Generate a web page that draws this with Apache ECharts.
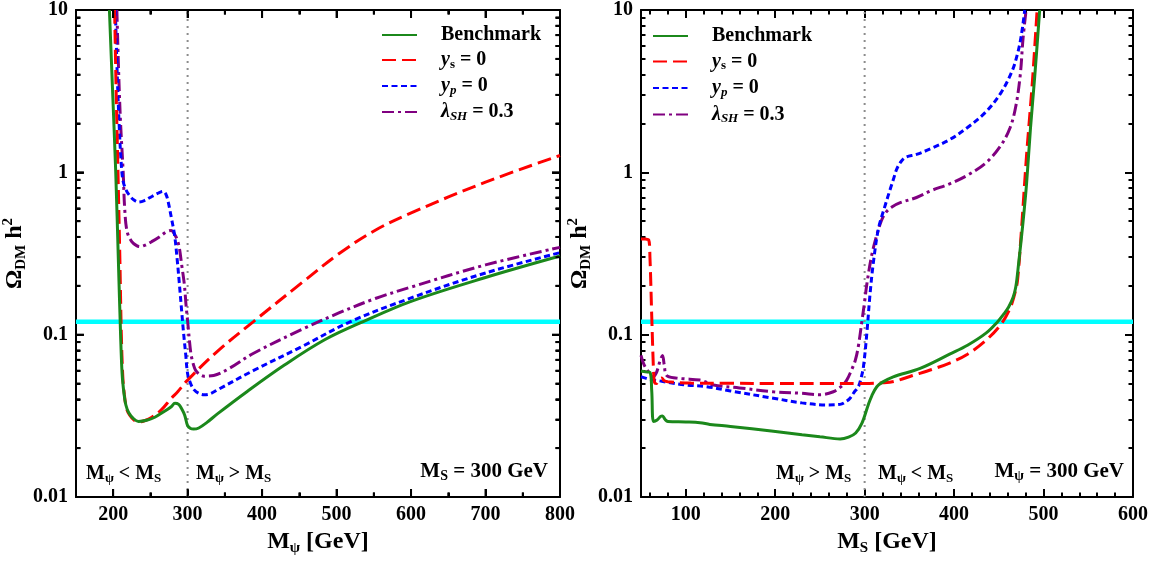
<!DOCTYPE html>
<html><head><meta charset="utf-8">
<script src="https://cdn.jsdelivr.net/npm/echarts@6/dist/echarts.min.js"></script>
<style>html,body{margin:0;padding:0;background:#fff}#c{width:1158px;height:561px}</style>
</head><body><div id="c"></div>
<script>
// ---------- data ----------
const seriesNames = ['Benchmark', 'ys', 'yp', 'lam'];
// Left panel: x = M_psi (GeV), M_S = 300 GeV
const benchL = [[195,10],[199,3.4],[203.5,1.0],[207,0.29],[210,0.1],[212,0.058],[214.5,0.0437],[217,0.037],[221,0.033],[227,0.0305],[234,0.0292],[245,0.0297],[256,0.031],[268,0.0335],[278,0.036],[283,0.0378],[288,0.0372],[292,0.035],[296,0.032],[300,0.0275],[304,0.0264],[308,0.0262],[315,0.0266],[326,0.0288],[340,0.0325],[380,0.0447],[430,0.065],[484,0.093],[535,0.12],[601,0.161],[700,0.225],[800,0.305]];
const ysL = [[202,10],[204,3.2],[206.5,1.0],[209,0.3],[211,0.1],[213,0.055],[215,0.043],[218,0.035],[222,0.032],[228,0.0298],[234,0.029],[242,0.0295],[252,0.031],[265,0.0345],[277,0.04],[287,0.0447],[300,0.0525],[340,0.079],[388,0.12],[454,0.21],[503,0.315],[552,0.44],[601,0.565],[700,0.87],[800,1.27]];
const ypL = [[203,10],[205.5,4],[208,2],[210.5,1.2],[213,0.9],[216.7,0.79],[222,0.72],[228,0.675],[234,0.656],[242,0.67],[252,0.71],[262,0.75],[267,0.762],[271,0.73],[274,0.656],[278,0.53],[282.5,0.41],[286,0.29],[289,0.204],[292,0.14],[294.7,0.101],[297.5,0.075],[300,0.0575],[304,0.05],[308.8,0.0457],[315,0.0435],[322,0.0427],[330,0.0432],[340,0.0457],[388,0.06],[454,0.0847],[518,0.12],[601,0.169],[700,0.24],[800,0.32]];
const lamL = [[205,10],[207.5,4],[210,2],[213.5,1.0],[215.5,0.6],[218.8,0.43],[225,0.374],[231,0.355],[236,0.349],[243,0.356],[251.7,0.374],[262,0.4],[271.5,0.43],[278,0.438],[282.5,0.415],[286,0.385],[289,0.34],[292,0.27],[295.6,0.204],[298,0.15],[300,0.1216],[304.4,0.0766],[308,0.065],[311,0.06],[316,0.057],[322,0.0555],[335,0.056],[356,0.062],[388,0.0766],[454,0.108],[503,0.136],[552,0.167],[601,0.197],[700,0.269],[800,0.345]];
// Right panel: x = M_S (GeV), M_psi = 300 GeV
const benchR = [[50,0.0597],[55,0.059],[60,0.0585],[62,0.045],[64,0.0292],[68,0.0298],[72,0.0314],[74,0.0316],[77,0.03],[80,0.0292],[100,0.029],[116,0.0287],[127,0.028],[150,0.0272],[198,0.0254],[230,0.0242],[250,0.0235],[272.6,0.0228],[282,0.0234],[290,0.0248],[297,0.0285],[304,0.0369],[308,0.042],[313.6,0.0478],[320,0.051],[332,0.055],[362,0.062],[395,0.0758],[415,0.086],[436,0.1025],[448,0.119],[456,0.135],[461,0.148],[466,0.17],[469,0.197],[472,0.27],[477,0.49],[481,0.85],[485.4,1.87],[490,3.8],[495.7,10]];
const ysR = [[50,0.389],[55,0.388],[58.5,0.385],[60,0.3],[62,0.13],[64,0.06],[65,0.051],[67,0.05],[70,0.0525],[73,0.054],[76,0.052],[80,0.0512],[106,0.0503],[150,0.0502],[200,0.05],[250,0.05],[300,0.05],[320,0.0505],[333,0.0515],[353.6,0.056],[375,0.061],[395,0.0669],[415,0.0758],[436,0.0927],[452.5,0.116],[462.7,0.146],[468,0.18],[471,0.218],[475,0.42],[481,1.27],[487.5,3.6],[492.8,10]];
const ypR = [[50,0.055],[55,0.054],[60,0.053],[63.8,0.0525],[70,0.052],[78.7,0.051],[100,0.049],[123.5,0.0478],[150,0.045],[198,0.0406],[230,0.038],[257.7,0.0369],[272.6,0.0372],[280,0.039],[283.7,0.0406],[288,0.044],[293,0.0478],[296,0.054],[298.6,0.063],[302.4,0.101],[306,0.177],[309.9,0.282],[315.5,0.451],[323,0.627],[329,0.8],[332,0.9],[336,1.05],[341,1.17],[346,1.24],[358,1.29],[374,1.4],[395,1.59],[415,1.89],[436,2.37],[452.5,3.1],[464.8,4.2],[471,5.4],[475,6.9],[479,10]];
const lamR = [[50,0.0745],[53,0.066],[57.5,0.06],[63,0.055],[67,0.058],[71,0.068],[74,0.0745],[76,0.065],[78.7,0.056],[90,0.054],[97.4,0.0535],[116,0.0525],[123,0.051],[131,0.0489],[160,0.047],[198,0.0445],[230,0.0435],[250,0.0427],[265,0.0445],[274,0.048],[280,0.0525],[285,0.06],[289.5,0.0693],[293,0.085],[297,0.1216],[300,0.16],[302.4,0.204],[308,0.31],[313.6,0.411],[318.5,0.5],[323,0.56],[330,0.61],[339.8,0.65],[358,0.7],[374,0.77],[395,0.85],[415,0.96],[436,1.15],[452.5,1.47],[462.7,1.89],[469,2.55],[474,4.0],[477,6.6],[480.5,10]];
// reference values
const omegaObs = 0.12;
const splitMass = 300;
// axes / ticks
const xRangeL = [150, 800];
const xRangeR = [50, 600];
const yRange = [0.01, 10];
const majorXL = [200,300,400,500,600,700,800];
const minorXL = [250,350,450,550,650,750];
const majorXR = [100,200,300,400,500,600];
const minorXR = [60,80,120,140,160,180,220,240,260,280,320,340,360,380,420,440,460,480,520,540,560,580];
const majorY = [0.01,0.1,1,10];
const minorY = [0.02,0.03,0.04,0.05,0.06,0.07,0.08,0.09,0.2,0.3,0.4,0.5,0.6,0.7,0.8,0.9,2,3,4,5,6,7,8,9];

// ---------- styling ----------
const FONT = "'Liberation Serif','Times New Roman',serif";
const TICK = '#000';
const COLORS = {Benchmark:'#1B881B', ys:'#FF0000', yp:'#0000FF', lam:'#800080'};
const DASH = {Benchmark:'solid', ys:[14,6], yp:[6,3.5], lam:[12,4,3,4]};
const dataL = {Benchmark:benchL, ys:ysL, yp:ypL, lam:lamL};
const dataR = {Benchmark:benchR, ys:ysR, yp:ypR, lam:lamR};

function tok(size, style, extra) {
  return Object.assign({fontFamily:FONT, fontWeight:'bold', fontSize:size, fontStyle:style||'normal', color:'#000'}, extra||{});
}
const nameRich = {
  b: tok(24, 'normal', {lineHeight:28}),
  sub: tok(15, 'normal', {lineHeight:14, verticalAlign:'bottom'}),
  sup: tok(15, 'normal', {lineHeight:14, verticalAlign:'top'})
};
const tk = (len, vals) => Object.assign({show:true, inside:true, length:len, lineStyle:{color:TICK, width:2}}, vals ? {customValues:vals} : {});

function xAxes(g, range, major, minor, name) {
  const base = {type:'value', gridIndex:g, min:range[0], max:range[1], splitLine:{show:false}};
  return [
    Object.assign({}, base, {position:'bottom', name:name, nameLocation:'middle', nameGap:31,
      nameTextStyle:{rich:nameRich},
      axisLine:{show:true, onZero:false, lineStyle:{color:'#000', width:2}}, axisTick:tk(8, major),
      axisLabel:{show:true, customValues:major, margin:8, color:'#000', fontFamily:FONT, fontWeight:'bold', fontSize:20}}),
    Object.assign({}, base, {position:'bottom', axisLine:{show:false, onZero:false}, axisTick:tk(4.5, minor), axisLabel:{show:false}}),
    Object.assign({}, base, {position:'top', axisLine:{show:true, onZero:false, lineStyle:{color:'#000', width:2}}, axisTick:tk(8, major), axisLabel:{show:false}}),
    Object.assign({}, base, {position:'top', axisLine:{show:false, onZero:false}, axisTick:tk(4.5, minor), axisLabel:{show:false}})
  ];
}
function yAxes(g) {
  const logBase = {type:'log', logBase:10, gridIndex:g, min:yRange[0], max:yRange[1], splitLine:{show:false}};
  const expBase = {type:'value', gridIndex:g, min:Math.log10(yRange[0]), max:Math.log10(yRange[1]), splitLine:{show:false}, axisLine:{show:false}, axisLabel:{show:false}};
  const minorExp = minorY.map(v => Math.log10(v));
  return [
    Object.assign({}, logBase, {position:'left', name:'{b|Ω}{sub|DM}{b| h}{sup|2}', nameLocation:'middle', nameGap:22,
      nameTextStyle:{rich:nameRich},
      axisLine:{show:true, lineStyle:{color:'#000', width:2}}, axisTick:tk(8),
      axisLabel:{show:true, margin:8, color:'#000', fontFamily:FONT, fontWeight:'bold', fontSize:20}}),
    Object.assign({}, expBase, {position:'left', axisTick:tk(4.5, minorExp)}),
    Object.assign({}, logBase, {position:'right', axisLine:{show:true, lineStyle:{color:'#000', width:2}}, axisTick:tk(8), axisLabel:{show:false}}),
    Object.assign({}, expBase, {position:'right', axisTick:tk(4.5, minorExp)})
  ];
}
function panelSeries(xi, yi, data, range) {
  const out = [];
  out.push({type:'line', xAxisIndex:xi, yAxisIndex:yi, data:[[range[0],omegaObs],[range[1],omegaObs]],
    symbol:'none', lineStyle:{color:'#00FFFF', width:4.5}, z:1, silent:true});
  out.push({type:'line', xAxisIndex:xi, yAxisIndex:yi, data:[[splitMass,yRange[0]],[splitMass,yRange[1]]],
    symbol:'none', lineStyle:{color:'#8c8c8c', width:2, type:[2,5]}, z:2, silent:true});
  seriesNames.forEach((n, k) => {
    out.push({type:'line', name:n, xAxisIndex:xi, yAxisIndex:yi, data:data[n], symbol:'none', showSymbol:false,
      smooth:0.35, lineStyle:{color:COLORS[n], width:3, type:DASH[n]}, itemStyle:{color:COLORS[n]}, z:5 + (3-k), silent:true});
  });
  return out;
}
const legendRich = {
  b: tok(20, 'normal', {lineHeight:22}),
  i: tok(20, 'italic', {lineHeight:22}),
  sb: tok(13, 'normal', {lineHeight:14, verticalAlign:'bottom'}),
  si: tok(13, 'italic', {lineHeight:14, verticalAlign:'bottom'})
};
const legendText = {Benchmark:'{b|Benchmark}', ys:'{i|y}{sb|s}{b| = 0}', yp:'{i|y}{si|p}{b| = 0}', lam:'{i|λ}{si|SH}{b| = 0.3}'};
function legend(left, top, gap) {
  return {data:seriesNames, orient:'vertical', left:left, top:top, padding:0, itemWidth:35, itemHeight:14, itemGap:gap,
    selectedMode:false, itemStyle:{opacity:0}, formatter:n => legendText[n], textStyle:{rich:legendRich, padding:[0,0,0,19]}};
}
const grayRich = {m: tok(20, 'normal', {color:'#999', lineHeight:22}), s: tok(13, 'normal', {color:'#999', lineHeight:14, verticalAlign:'bottom'})};
const blackRich = {m: tok(21, 'normal', {lineHeight:22}), s: tok(14, 'normal', {lineHeight:14, verticalAlign:'bottom'})};
function label(x, y, text, rich, align) {
  return {type:'text', x:x, y:y, silent:true, style:{text:text, rich:rich, align:align||'left', verticalAlign:'middle'}};
}
const option = {
  animation:false,
  backgroundColor:'#fff',
  grid:[{left:66, right:598, top:6, bottom:63},{left:641, right:25, top:6, bottom:63}],
  xAxis: xAxes(0, xRangeL, majorXL, minorXL, '{b|M}{sub|ψ}{b| [GeV]}').concat(xAxes(1, xRangeR, majorXR, minorXR, '{b|M}{sub|S}{b| [GeV]}')),
  yAxis: yAxes(0).concat(yAxes(1)),
  legend:[legend(381, 25, 5), legend(652, 26, 5.5)],
  series: panelSeries(0, 0, dataL, xRangeL).concat(panelSeries(4, 4, dataR, xRangeR)),
  graphic:[
    label(86, 474, '{m|M}{s|ψ}{m| < M}{s|S}', grayRich),
    label(196, 474, '{m|M}{s|ψ}{m| > M}{s|S}', grayRich),
    label(548, 472, '{m|M}{s|S}{m| = 300 GeV}', blackRich, 'right'),
    label(776, 474, '{m|M}{s|ψ}{m| > M}{s|S}', grayRich),
    label(878, 474, '{m|M}{s|ψ}{m| < M}{s|S}', grayRich),
    label(1124, 472, '{m|M}{s|ψ}{m| = 300 GeV}', blackRich, 'right')
  ]
};
const chart = echarts.init(document.getElementById('c'));
chart.setOption(option);

// Frame tick marks as short line series: each tick starts at a tick value on the frame,
// its inner end is found by converting a pixel offset back through the axes' scales.
function tickLines(xi, yi, xr, majorX, minorX) {
  const finder = {xAxisIndex:xi, yAxisIndex:yi};
  const out = [];
  const seg = (a, dx, dy) => {
    const p = chart.convertToPixel(finder, a);
    const b = chart.convertFromPixel(finder, [p[0] + dx, p[1] + dy]);
    out.push({type:'line', xAxisIndex:xi, yAxisIndex:yi, data:[a, b], symbol:'none', silent:true, clip:false,
      lineStyle:{color:TICK, width:2}, z:12});
  };
  majorX.forEach(v => { seg([v, yRange[0]], 0, -8); seg([v, yRange[1]], 0, 8); });
  minorX.forEach(v => { seg([v, yRange[0]], 0, -4.5); seg([v, yRange[1]], 0, 4.5); });
  majorY.forEach(v => { seg([xr[0], v], 8, 0); seg([xr[1], v], -8, 0); });
  minorY.forEach(v => { seg([xr[0], v], 4.5, 0); seg([xr[1], v], -4.5, 0); });
  return out;
}
try {
  const extra = tickLines(0, 0, xRangeL, majorXL, minorXL);
  option.series = option.series.concat(extra);
  chart.setOption(option, true);
} catch (e) { console.error(e); }
</script>
</body></html>
